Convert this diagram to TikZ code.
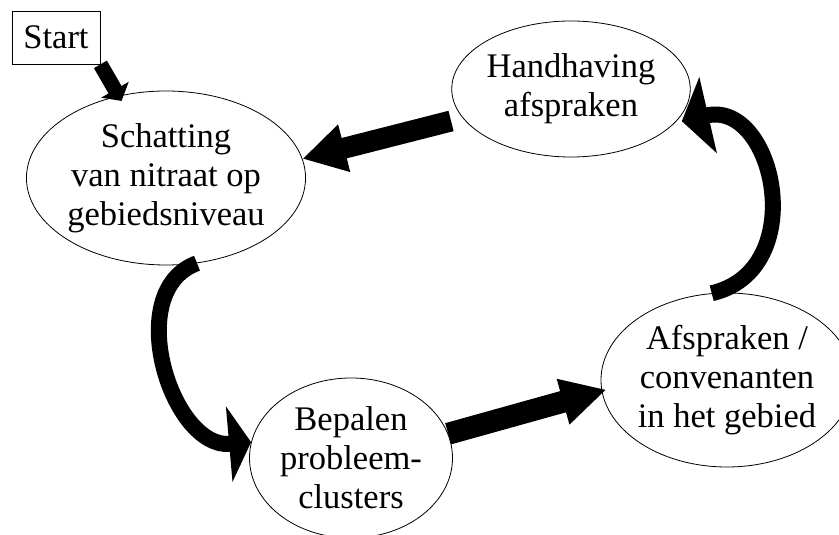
\documentclass[tikz,border=0pt]{standalone}
\usepackage{fontspec}
\setmainfont{Liberation Serif}
\usetikzlibrary{arrows.meta}
\usetikzlibrary{shapes.geometric}

\begin{document}
\begin{tikzpicture}[x=1pt,y=1pt,
        stap/.style={ellipse,draw,line width=0.8pt,inner sep=0pt,align=center},
        pijl/.style={line width=#1}]
        \useasboundingbox (0,0) rectangle (839,535);
        \fontsize{34.5}{39}\selectfont

        % Add the boxes
        \node[draw,line width=0.8pt,minimum width=88,minimum height=53,inner sep=0pt] (start) at (56,497.5) {Start};
        \node[stap,minimum width=256,minimum height=174] (schat) at (166,357) {Schatting\\van nitraat op\\gebiedsniveau};
        \node[stap,minimum width=221,minimum height=136] (hand) at (571,446) {Handhaving\\afspraken};
        \node[stap,minimum width=203,minimum height=160] (bep) at (351,77) {Bepalen\\probleem-\\clusters};
        \node[stap,minimum width=232,minimum height=174] (afs) at (727,155) {Afspraken /\\convenanten\\in het gebied};

        % Add the arrows
        \draw[pijl=15pt,-{Triangle[length=13pt,width=31pt]},shorten >=-6pt] (start.south east) -- (schat.120);
        \draw[pijl=21pt,-{Triangle[length=43pt,width=46pt]},shorten <=12pt] (hand.195) -- (schat.8);
        \draw[pijl=16pt,-{Triangle[length=22pt,width=75pt]}] (schat.-70) to[out=200,in=185,looseness=1.1] (bep.171);
        \draw[pijl=22pt,-{Triangle[length=45pt,width=44pt]},shorten >=-5pt] (bep.14) -- (afs.185);
        \draw[pijl=16pt,-{Triangle[length=27pt,width=77pt]},shorten >=7pt] (afs.100) to[out=13,in=13,looseness=1.5] (hand.342);

    \end{tikzpicture}
\end{document}
